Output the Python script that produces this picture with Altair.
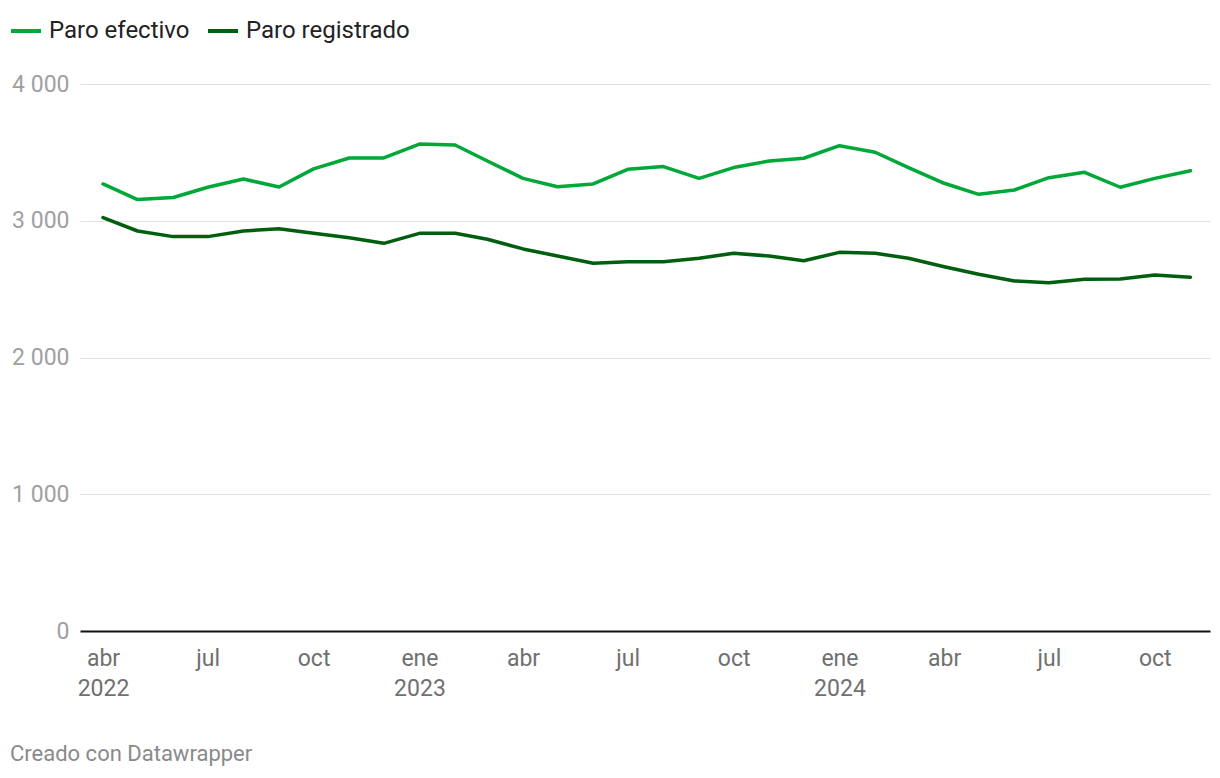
import altair as alt
import pandas as pd

months = pd.date_range("2022-04-01", "2024-11-01", freq="MS").strftime("%Y-%m-%d").tolist()

paro_efectivo = [3269, 3155, 3170, 3245, 3305, 3247, 3379, 3459, 3459, 3561, 3554,
                 3437, 3310, 3249, 3269, 3376, 3396, 3310, 3389, 3437, 3457,
                 3549, 3501, 3389, 3274, 3193, 3225, 3315, 3354, 3245, 3310, 3366]
paro_registrado = [3023, 2925, 2884, 2884, 2925, 2942, 2908, 2876, 2835, 2908, 2908,
                   2865, 2794, 2742, 2689, 2701, 2701, 2726, 2762, 2742, 2708,
                   2769, 2762, 2726, 2664, 2609, 2560, 2547, 2572, 2574, 2603, 2587]

series_names = ["Paro efectivo", "Paro registrado"]
series_colors = ["#00a838", "#005f0e"]
month_names = ["ene", "feb", "mar", "abr", "may", "jun", "jul", "ago", "sep", "oct", "nov", "dic"]
x_tick_dates = ["2022-04-01", "2022-07-01", "2022-10-01", "2023-01-01", "2023-04-01",
                "2023-07-01", "2023-10-01", "2024-01-01", "2024-04-01", "2024-07-01", "2024-10-01"]
y_ticks = [0, 1000, 2000, 3000, 4000]
credit = "Creado con Datawrapper"


def ms(d):
    return int(pd.Timestamp(d, tz="UTC").value // 10**6)


df = pd.DataFrame({
    "fecha": months * 2,
    "valor": paro_efectivo + paro_registrado,
    "serie": [series_names[0]] * len(months) + [series_names[1]] * len(months),
})

domain = [ms("2022-03-12"), ms("2024-11-18")]
tick_vals = [ms(d) for d in x_tick_dates]

mn = "[" + ",".join("'%s'" % m for m in month_names) + "]"
label_expr = (
    f"(utcmonth(datum.value)==0 || (utcyear(datum.value)==2022 && utcmonth(datum.value)==3)) "
    f"? [{mn}[utcmonth(datum.value)], '' + utcyear(datum.value)] : {mn}[utcmonth(datum.value)]"
)

FONT = "Roboto"

lines = alt.Chart(df).mark_line(strokeWidth=3.5, strokeJoin="round", strokeCap="round").encode(
    x=alt.X("fecha:T",
            scale=alt.Scale(type="utc", domain=domain),
            axis=alt.Axis(values=tick_vals, labelExpr=label_expr, title=None,
                          grid=False, ticks=False, domain=True, domainColor="#111111",
                          domainWidth=2, labelFontSize=23, labelColor="#707070",
                          labelFont=FONT, labelPadding=16, labelLineHeight=30,
                          labelBaseline="top", labelAlign="center", labelFlush=False)),
    y=alt.Y("valor:Q",
            scale=alt.Scale(domain=[0, 4000], nice=False),
            axis=alt.Axis(values=y_ticks, title=None, grid=True, gridColor="#e0e0e0",
                          gridWidth=1, ticks=False, domain=False,
                          labelExpr="replace(format(datum.value, ','), ',', ' ')",
                          labelFontSize=23, labelColor="#a0a0a0", labelFont=FONT,
                          labelPadding=11, labelBaseline="middle")),
    color=alt.Color("serie:N",
                    scale=alt.Scale(domain=series_names, range=series_colors),
                    legend=alt.Legend(title=None, orient="none", legendX=-71, legendY=-70,
                                      direction="horizontal", symbolType="stroke",
                                      symbolSize=900, symbolStrokeWidth=4,
                                      labelFontSize=24, labelFont=FONT, labelColor="#222222",
                                      labelLimit=400,
                                      labelOffset=6, columnPadding=10, padding=0)),
)

credit_df = pd.DataFrame({"t": [credit]})
credit_text = alt.Chart(credit_df).mark_text(
    align="left", baseline="middle", fontSize=22, font=FONT, color="#8a8a8a"
).encode(text="t:N", x=alt.value(-70), y=alt.value(670))

chart = alt.layer(lines, credit_text).properties(
    width=1130, height=547,
    autosize=alt.AutoSizeParams(type="none"),
    padding={"left": 72, "top": 76, "right": 2, "bottom": 150},
).configure(font=FONT, view=alt.ViewConfig(stroke=None))

chart.save("out.html", embed_options={"renderer": "svg", "actions": False})
